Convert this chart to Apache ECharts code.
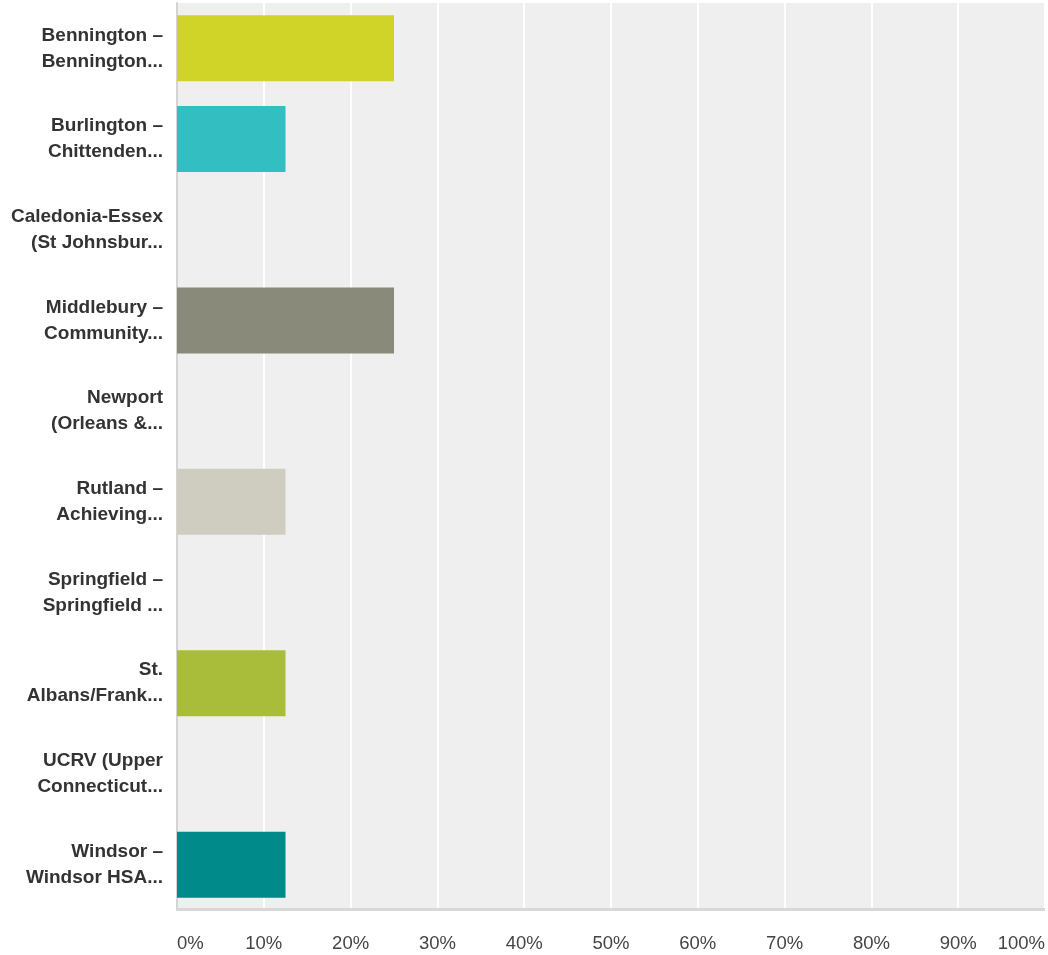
<!DOCTYPE html>
<html>
<head>
<meta charset="utf-8">
<script src="https://cdn.jsdelivr.net/npm/echarts@6/dist/echarts.min.js"></script>
<style>
html,body{margin:0;padding:0;background:#fff;}
#chart{width:1048px;height:955px;}
</style>
</head>
<body>
<div id="chart"></div>
<script>
var categories = [
  "Bennington –\nBennington...",
  "Burlington –\nChittenden...",
  "Caledonia-Essex\n(St Johnsbur...",
  "Middlebury –\nCommunity...",
  "Newport\n(Orleans &...",
  "Rutland –\nAchieving...",
  "Springfield –\nSpringfield ...",
  "St.\nAlbans/Frank...",
  "UCRV (Upper\nConnecticut...",
  "Windsor –\nWindsor HSA..."
];
var values = [25, 12.5, 0, 25, 0, 12.5, 0, 12.5, 0, 12.5];
var barColors = ["#d0d429", "#33bec1", "#bbbbbb", "#898a7a", "#bbbbbb", "#cecdc0", "#bbbbbb", "#aabd3a", "#bbbbbb", "#008a89"];
var tickValues = [0, 10, 20, 30, 40, 50, 60, 70, 80, 90, 100];

var chart = echarts.init(document.getElementById('chart'), null, {renderer: 'canvas'});
var font = '"Liberation Sans", Arial, Helvetica, sans-serif';
chart.setOption({
  animation: false,
  grid: {
    left: 177, right: 1, top: 3, bottom: 45,
    show: true, backgroundColor: '#efefef', borderWidth: 0
  },
  xAxis: {
    type: 'value', min: tickValues[0], max: tickValues[tickValues.length - 1], interval: 10,
    axisLine: {show: false},
    axisTick: {show: false},
    splitLine: {show: true, lineStyle: {color: '#ffffff', width: 2}},
    axisLabel: {
      formatter: '{value}%', color: '#444444', fontSize: 18.5, fontFamily: font,
      margin: 24, alignMinLabel: 'left', alignMaxLabel: 'right'
    }
  },
  yAxis: {
    type: 'category', data: categories, inverse: true,
    axisLine: {show: true, lineStyle: {color: '#d4d4d4', width: 2}},
    axisTick: {show: false},
    splitLine: {show: false},
    axisLabel: {
      color: '#333333', fontSize: 19, fontWeight: 'bold', fontFamily: font,
      lineHeight: 26, margin: 14, align: 'right'
    }
  },
  series: [{
    type: 'bar',
    data: values.map(function (v, i) { return {value: v, itemStyle: {color: barColors[i]}}; }),
    barWidth: 66,
    silent: true
  }, {
    type: 'line',
    data: [],
    markLine: {
      silent: true, symbol: 'none', label: {show: false},
      lineStyle: {color: '#d8d8d8', width: 3, type: 'solid'},
      data: [[{coord: [0, 9], y: 909}, {coord: [100, 9], y: 909}]]
    }
  }]
});
</script>
</body>
</html>
